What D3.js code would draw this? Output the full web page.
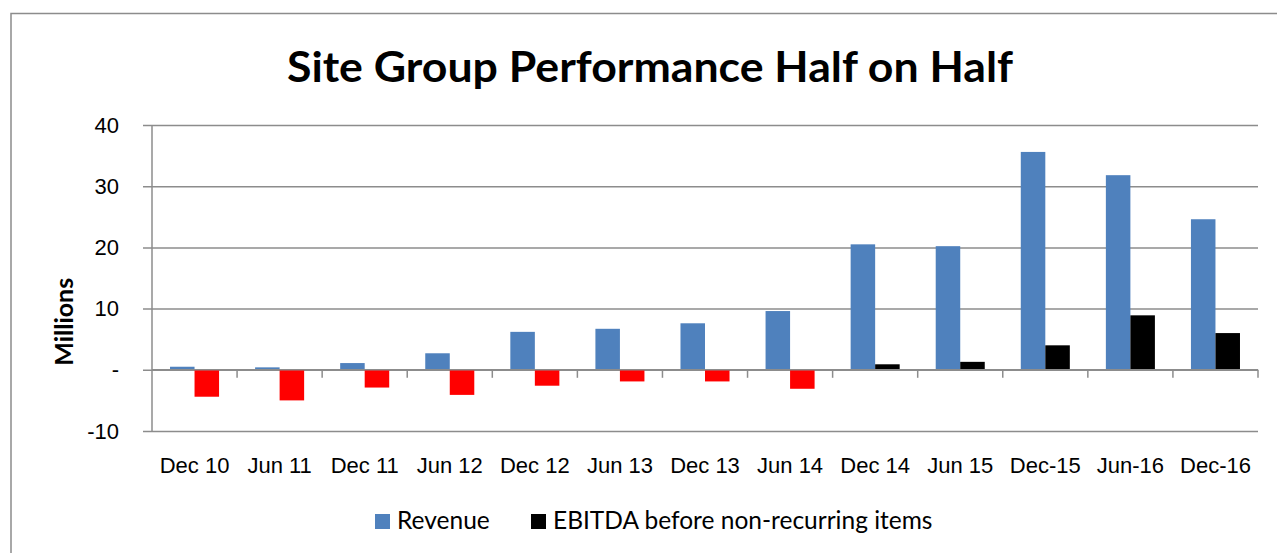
<!DOCTYPE html>
<html>
<head>
<meta charset="utf-8">
<script src="https://cdn.jsdelivr.net/npm/d3@7"></script>
<style>
  body { margin: 0; background: #fff; }
  svg { display: block; font-family: Lato, "Open Sans", sans-serif; }
</style>
</head>
<body>
<div id="chart"></div>
<script>
// half-year periods
const periods = ["Dec 10", "Jun 11", "Dec 11", "Jun 12", "Dec 12", "Jun 13", "Dec 13",
                 "Jun 14", "Dec 14", "Jun 15", "Dec-15", "Jun-16", "Dec-16"];
// values in millions
const revenue = [0.5, 0.4, 1.1, 2.7, 6.2, 6.7, 7.6, 9.6, 20.5, 20.2, 35.6, 31.8, 24.6];
const ebitda = [-4.4, -5.0, -2.9, -4.1, -2.6, -1.9, -1.9, -3.1, 0.9, 1.3, 4.0, 8.9, 6.0];
const yTicks = [-10, 0, 10, 20, 30, 40];
const seriesNames = ["Revenue", "EBITDA before non-recurring items"];

const width = 1277, height = 553;
const margin = {top: 125, right: 19, bottom: 122, left: 152};
const gridColor = "#8c8c8c";

const svg = d3.select("#chart").append("svg")
    .attr("width", width)
    .attr("height", height);

// outer chart border (runs off the right/bottom edges)
svg.append("path")
    .attr("d", `M11,${height + 5}V13.5H${width + 5}`)
    .attr("fill", "none")
    .attr("stroke", gridColor)
    .attr("stroke-width", 1.5);

svg.append("text")
    .attr("x", 650)
    .attr("y", 82)
    .attr("text-anchor", "middle")
    .attr("font-size", 42)
    .attr("font-weight", "bold")
    .attr("textLength", 726)
    .attr("lengthAdjust", "spacingAndGlyphs")
    .text("Site Group Performance Half on Half");

const x = d3.scaleBand()
    .domain(periods)
    .range([margin.left, width - margin.right])
    .paddingInner(0)
    .paddingOuter(0);

const y = d3.scaleLinear()
    .domain([-10, 40])
    .range([height - margin.bottom, margin.top]);

// gridlines + y ticks
const yAxis = d3.axisLeft(y)
    .tickValues(yTicks)
    .tickSize(-(width - margin.right - margin.left + 9))
    .tickFormat(d => d === 0 ? "-" : d);

svg.append("g")
    .attr("transform", `translate(${margin.left - 9},0)`)
    .call(yAxis)
    .call(g => g.select(".domain").remove())
    .call(g => g.selectAll(".tick line")
        .attr("stroke", gridColor)
        .attr("stroke-width", 1.5)
        .attr("x1", 0)
        .attr("x2", width - margin.right - margin.left + 9))
    .call(g => g.selectAll(".tick text")
        .attr("x", -24)
        .attr("font-size", 22)
        .attr("fill", "#000"));

// bars
const inner = d3.scaleBand()
    .domain(["rev", "ebitda"])
    .range([0, x.bandwidth()])
    .paddingInner(0)
    .paddingOuter(0.735);

const groups = svg.append("g").selectAll("g")
    .data(periods)
    .join("g")
    .attr("transform", d => `translate(${x(d)},0)`);

groups.append("rect")
    .attr("x", inner("rev"))
    .attr("width", inner.bandwidth())
    .attr("y", (d, i) => y(Math.max(0, revenue[i])))
    .attr("height", (d, i) => Math.abs(y(revenue[i]) - y(0)))
    .attr("fill", "#4f81bd");

groups.append("rect")
    .attr("x", inner("ebitda"))
    .attr("width", inner.bandwidth())
    .attr("y", (d, i) => y(Math.max(0, ebitda[i])))
    .attr("height", (d, i) => Math.abs(y(ebitda[i]) - y(0)))
    .attr("fill", (d, i) => ebitda[i] < 0 ? "#ff0000" : "#000000");

// left axis line
svg.append("line")
    .attr("x1", margin.left).attr("x2", margin.left)
    .attr("y1", y(40)).attr("y2", y(-10))
    .attr("stroke", gridColor)
    .attr("stroke-width", 1.5);

// x axis at zero with ticks between categories
const xg = svg.append("g")
    .attr("transform", `translate(0,${y(0)})`);
xg.append("line")
    .attr("x1", margin.left).attr("x2", width - margin.right)
    .attr("stroke", gridColor)
    .attr("stroke-width", 1.5);
xg.selectAll(".sep")
    .data(periods)
    .join("line")
    .attr("class", "sep")
    .attr("x1", d => x(d) + x.bandwidth())
    .attr("x2", d => x(d) + x.bandwidth())
    .attr("y1", 0).attr("y2", 8)
    .attr("stroke", gridColor)
    .attr("stroke-width", 1.5);

// category labels under the plot
const xAxis = d3.axisBottom(x).tickSize(0).tickPadding(0);
svg.append("g")
    .attr("transform", `translate(0,${y(-10) + 42})`)
    .call(xAxis)
    .call(g => g.select(".domain").remove())
    .call(g => g.selectAll(".tick text")
        .attr("dy", 0)
        .attr("font-size", 22)
        .attr("fill", "#000"));

// y axis title
svg.append("text")
    .attr("transform", `translate(73,${y(0) - 48}) rotate(-90)`)
    .attr("text-anchor", "middle")
    .attr("font-size", 25)
    .attr("font-weight", "bold")
    .text("Millions");

// legend
const legendColors = ["#4f81bd", "#000000"];
const legendX = [375, 531];
const legend = svg.append("g").selectAll("g")
    .data(seriesNames)
    .join("g")
    .attr("transform", (d, i) => `translate(${legendX[i]},514)`);
legend.append("rect")
    .attr("width", 15).attr("height", 15)
    .attr("fill", (d, i) => legendColors[i]);
legend.append("text")
    .attr("x", 22)
    .attr("y", 15)
    .attr("font-size", 24.5)
    .text(d => d);
</script>
</body>
</html>
